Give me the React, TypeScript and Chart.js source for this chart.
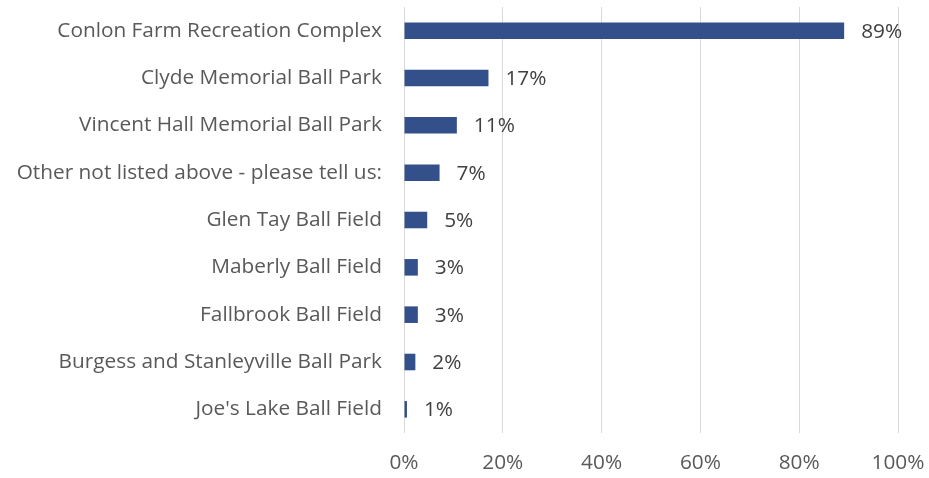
import React, { useEffect, useRef } from "react";
import { Chart, registerables } from "chart.js";

Chart.register(...registerables);

const categories = [
  "Conlon Farm Recreation Complex",
  "Clyde Memorial Ball Park",
  "Vincent Hall Memorial Ball Park",
  "Other not listed above - please tell us:",
  "Glen Tay Ball Field",
  "Maberly Ball Field",
  "Fallbrook Ball Field",
  "Burgess and Stanleyville Ball Park",
  "Joe's Lake Ball Field",
];
const values = [89.1, 17.1, 10.7, 7.2, 4.7, 2.8, 2.8, 2.3, 0.6];
const valueLabels = ["89%", "17%", "11%", "7%", "5%", "3%", "3%", "2%", "1%"];
const xTicks = [0, 20, 40, 60, 80, 100];

const FONT = "'Open Sans', sans-serif";
const FONT_SIZE = 20.8;

const labelPlugin = {
  id: "barLabels",
  afterDatasetsDraw(chart: any) {
    const ctx = chart.ctx;
    const meta = chart.getDatasetMeta(0);
    ctx.save();
    ctx.font = `${FONT_SIZE}px ${FONT}`;
    ctx.fillStyle = "#404040";
    ctx.textAlign = "left";
    ctx.textBaseline = "middle";
    meta.data.forEach((el: any, i: number) => {
      ctx.fillText(valueLabels[i], el.x + 17, el.y + 1);
    });
    ctx.restore();
  },
};

export default function App() {
  const ref = useRef<HTMLCanvasElement>(null);
  useEffect(() => {
    document.body.style.margin = "0";
    const chart = new Chart(ref.current!, {
      type: "bar",
      data: {
        labels: categories,
        datasets: [
          {
            data: values,
            backgroundColor: "#34508a",
            barPercentage: 0.35,
            categoryPercentage: 1,
          },
        ],
      },
      options: {
        indexAxis: "y",
        animation: false,
        responsive: false,
        maintainAspectRatio: false,
        layout: { padding: { top: 7, right: 31, bottom: 0, left: 0 } },
        plugins: { legend: { display: false }, tooltip: { enabled: false } },
        scales: {
          x: {
            min: 0,
            max: 100,
            afterBuildTicks: (axis: any) => {
              axis.ticks = xTicks.map((v) => ({ value: v }));
            },
            afterFit: (axis: any) => {
              axis.height = 45;
              axis.paddingLeft = 0;
              axis.paddingRight = 0;
            },
            grid: { color: "#d9d9d9", lineWidth: 1, drawTicks: false },
            border: { display: false },
            ticks: {
              padding: 18,
              color: "#595959",
              font: { family: FONT, size: FONT_SIZE },
              callback: (v: any) => `${v}%`,
            },
          },
          y: {
            afterFit: (axis: any) => {
              axis.width = 404;
              axis.paddingTop = 0;
              axis.paddingBottom = 0;
            },
            grid: { display: false, drawTicks: false },
            border: { display: false },
            ticks: {
              padding: 22,
              color: "#595959",
              font: { family: FONT, size: FONT_SIZE },
            },
          },
        },
      },
      plugins: [labelPlugin],
    });
    return () => chart.destroy();
  }, []);
  return (
    <div style={{ position: "absolute", left: 0, top: 0, width: 929, height: 478 }}>
      <canvas ref={ref} width={929} height={478} style={{ width: 929, height: 478 }} />
    </div>
  );
}
